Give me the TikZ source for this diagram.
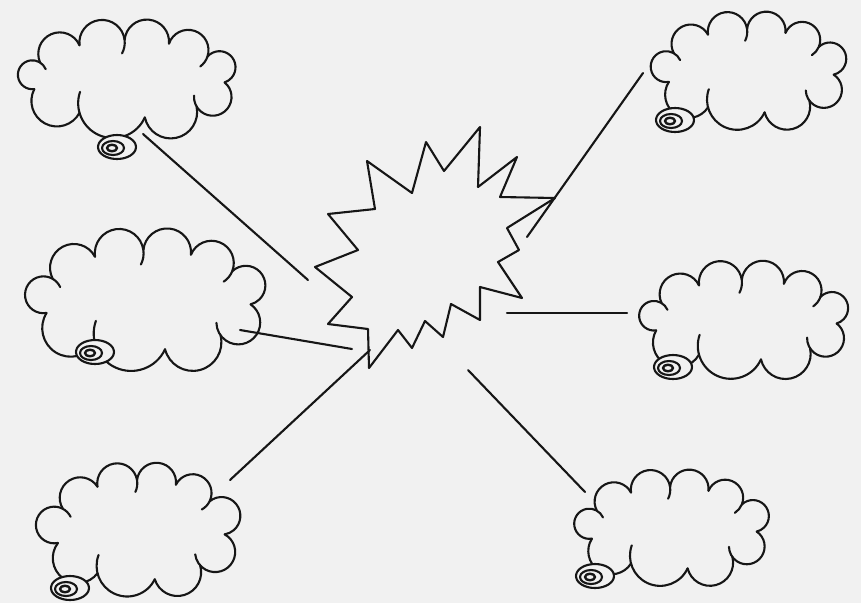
\documentclass[tikz,border=0pt]{standalone}
\usetikzlibrary{calc}
\definecolor{paper}{RGB}{241,241,241}
\definecolor{ink}{RGB}{22,22,22}
\tikzset{
  inkline/.style={draw=ink, line width=2.1pt, line cap=round, line join=round},
  connector/.style={inkline},
  burst/.style={inkline},
}
% cloud: #1 cx, #2 cy, #3 a, #4 b, #5 list angle/deviation/hook
\newcommand\drawcloud[5]{%
  \foreach \ang/\dev/\hk [count=\ci, remember=\ang as \prevang (initially 0)] in {#5} {%
    \ifnum\ci>1
      \pgfmathsetmacro\cldxa{#1+#3*cos(\prevang)}%
      \pgfmathsetmacro\cldya{#2+#4*sin(\prevang)}%
      \pgfmathsetmacro\cldxb{#1+#3*cos(\ang)}%
      \pgfmathsetmacro\cldyb{#2+#4*sin(\ang)}%
      \pgfmathsetmacro\cldc{atan2(\cldyb-\cldya,\cldxb-\cldxa)}%
      \pgfmathsetmacro\cldL{veclen(\cldxb-\cldxa,\cldyb-\cldya)}%
      \pgfmathsetmacro\cldr{\cldL/(2*cos(\dev))}%
      \pgfmathsetmacro\cldsa{\cldc-180-\dev}%
      \pgfmathsetmacro\cldda{180+2*\dev+\hk}%
      \draw[inkline] (\cldxa,\cldya) arc[start angle=\cldsa, delta angle=\cldda, radius=\cldr];
    \fi
  }%
}
\newcommand\stdcloud[4]{%
  \drawcloud{#1}{#2}{#3}{#4}{165/0/0,205/20/35,240/0/0,268/0/35,295/0/0,325/0/35,365/15/0,405/10/35,440/0/0,480/-20/35,525/0/0}%
}
\newcommand\drawtail[2]{%
  \draw[inkline, fill=paper] (#1,#2) ellipse[x radius=19, y radius=12];
  \draw[inkline] (#1-4,#2+1) ellipse[x radius=11, y radius=7];
  \draw[inkline, line width=2.4pt] (#1-5,#2+1) ellipse[x radius=5, y radius=3.3];
}
\begin{document}
\begin{tikzpicture}[x=1pt, y=-1pt]
\fill[paper] (0,0) rectangle (861,603);
\useasboundingbox (0,0) rectangle (861,603);

% starburst
\draw[burst] (328,214) -- (375,209) -- (367,161) -- (412,193) -- (426,142) -- (444,171)
  -- (480,127) -- (478,187) -- (517,157) -- (500,197) -- (555,198) -- (507,228)
  -- (519,250) -- (498,262) -- (522,298) -- (480,287) -- (480,320) -- (451,304)
  -- (443,337) -- (425,321) -- (412,348) -- (398,330) -- (369,368) -- (368,329)
  -- (328,324) -- (352,297) -- (315,267) -- (358,250) -- cycle;

% clouds
\stdcloud{128}{79}{97}{39}
\stdcloud{750}{71}{84}{42}
\stdcloud{147}{300}{104}{50}
\stdcloud{745}{320}{92}{40}
\stdcloud{140}{530}{85}{50}
\stdcloud{673}{528}{84}{41}

% tails
\drawtail{117}{147}
\drawtail{675}{120}
\drawtail{95}{352}
\drawtail{673}{367}
\drawtail{70}{588}
\drawtail{595}{576}

% connector end points
\coordinate (ca) at (143,134);  \coordinate (sa) at (308,280);
\coordinate (cb) at (643,73);   \coordinate (sb) at (527,237);
\coordinate (cc) at (240,330);  \coordinate (sc) at (352,349);
\coordinate (cd) at (627,313);  \coordinate (sd) at (507,313);
\coordinate (ce) at (230,480);  \coordinate (se) at (370,350);
\coordinate (cf) at (585,492);  \coordinate (sf) at (468,370);

\draw[connector] (ca) -- (sa);
\draw[connector] (sb) -- (cb);
\draw[connector] (cc) -- (sc);
\draw[connector] (sd) -- (cd);
\draw[connector] (ce) -- (se);
\draw[connector] (sf) -- (cf);
\end{tikzpicture}
\end{document}
